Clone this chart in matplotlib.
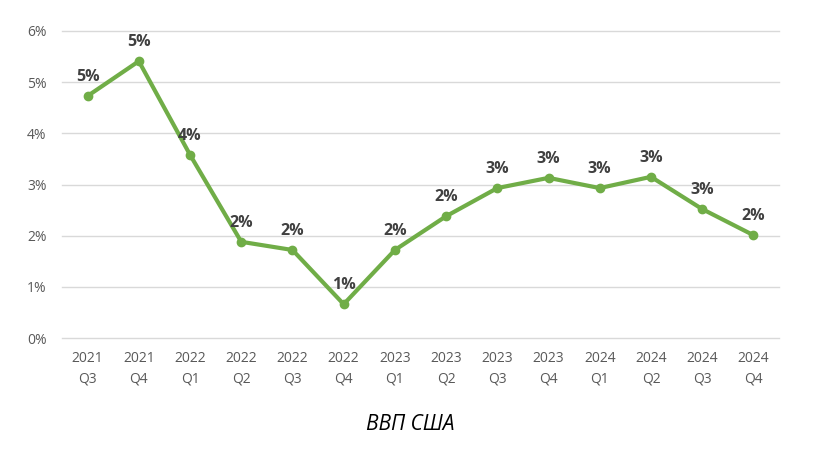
import matplotlib
matplotlib.use("Agg")
import matplotlib.pyplot as plt

years = ["2021", "2021", "2022", "2022", "2022", "2022", "2023", "2023", "2023", "2023", "2024", "2024", "2024", "2024"]
quarters = ["Q3", "Q4", "Q1", "Q2", "Q3", "Q4", "Q1", "Q2", "Q3", "Q4", "Q1", "Q2", "Q3", "Q4"]
gdp = [4.73, 5.41, 3.58, 1.88, 1.72, 0.66, 1.72, 2.38, 2.93, 3.13, 2.93, 3.15, 2.52, 2.01]
yticks = [0, 1, 2, 3, 4, 5, 6]

plt.rcParams['font.family'] = ['Open Sans', 'DejaVu Sans']

fig = plt.figure(figsize=(8.36, 4.49), dpi=100)
ax = fig.add_axes([62/836, 1-338/449, (779-62)/836, (338-31)/449])

x = [i + 0.5 for i in range(len(gdp))]
ax.plot(x, gdp, color="#70AD47", linewidth=3, marker="o", markersize=6, zorder=3, clip_on=False)
for xi, v in zip(x, gdp):
    ax.annotate(f"{round(v):.0f}%", (xi, v), xytext=(0, 8), textcoords="offset points",
                ha="center", va="bottom", fontsize=11.5, fontweight="bold", color="#404040")

ax.set_xlim(0, len(gdp))
ax.set_ylim(0, 6)
ax.set_yticks(yticks)
ax.set_yticklabels([f"{t}%" for t in yticks])
ax.set_xticks(x)
ax.set_xticklabels([f"{y}\n{q}" for y, q in zip(years, quarters)], linespacing=1.55)
ax.grid(axis="y", color="#D9D9D9", linewidth=1)
for gl in ax.get_ygridlines():
    gl.set_clip_on(False)
ax.set_axisbelow(True)
for s in ax.spines.values():
    s.set_visible(False)
ax.tick_params(axis="both", length=0, colors="#595959", labelsize=10)
ax.tick_params(axis="y", pad=11)
ax.tick_params(axis="x", pad=9)

fig.text(410/836, 1-425/449, "ВВП США", ha="center", va="center", fontsize=15, style="italic", color="#000000")

fig.savefig("out.png", dpi=100)
